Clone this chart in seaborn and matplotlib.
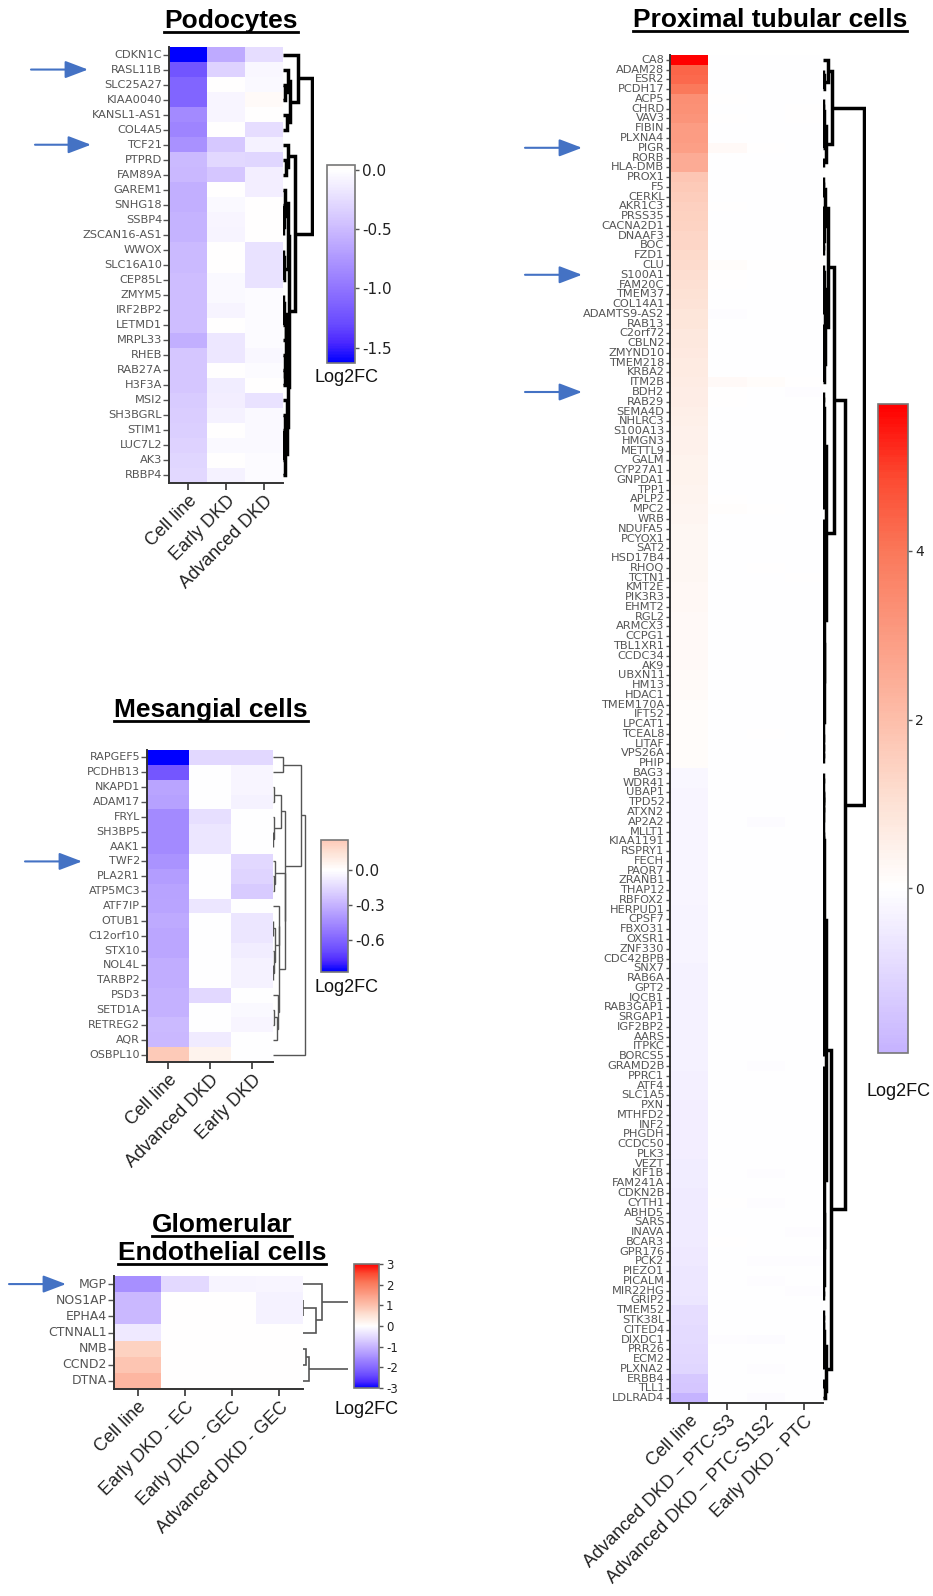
import numpy as np
import pandas as pd
import matplotlib
matplotlib.use("Agg")
import matplotlib.pyplot as plt
import seaborn as sns
from matplotlib.colors import LinearSegmentedColormap, ListedColormap
from matplotlib.lines import Line2D

plt.rcParams['font.family'] = ['DejaVu Sans']
plt.rcParams['axes.unicode_minus'] = False

# ---------------- DATA ----------------
pod_genes = ["CDKN1C", "RASL11B", "SLC25A27", "KIAA0040", "KANSL1-AS1", "COL4A5", "TCF21",
             "PTPRD", "FAM89A", "GAREM1", "SNHG18", "SSBP4", "ZSCAN16-AS1", "WWOX", "SLC16A10",
             "CEP85L", "ZMYM5", "IRF2BP2", "LETMD1", "MRPL33", "RHEB", "RAB27A", "H3F3A", "MSI2",
             "SH3BGRL", "STIM1", "LUC7L2", "AK3", "RBBP4"]
pod_cols = ["Cell line", "Early DKD", "Advanced DKD"]
pod_cell = [-1.63, -1.22, -1.12, -1.12, -0.85, -0.88, -0.80, -0.50, -0.52, -0.58, -0.58, -0.55,
            -0.55, -0.50, -0.50, -0.48, -0.48, -0.48, -0.48, -0.58, -0.42, -0.42, -0.42, -0.38,
            -0.36, -0.35, -0.33, -0.30, -0.28]
pod_early = [-0.62, -0.32, 0.0, -0.07, -0.07, 0.0, -0.40, -0.28, -0.42, 0.0, -0.05, -0.07,
             -0.08, 0.0, 0.0, -0.05, -0.05, -0.08, 0.0, -0.18, -0.18, 0.0, -0.14, -0.12,
             -0.10, 0.0, -0.05, 0.0, -0.10]
pod_adv = [-0.25, -0.06, -0.05, 0.04, 0.0, -0.25, -0.10, -0.30, -0.12, -0.12, 0.0, 0.0,
           0.0, -0.22, -0.22, -0.22, -0.03, -0.03, -0.03, -0.03, -0.06, -0.03, 0.0, -0.22,
           -0.05, -0.05, -0.05, -0.03, -0.03]

mes_genes = ["RAPGEF5", "PCDHB13", "NKAPD1", "ADAM17", "FRYL", "SH3BP5", "AAK1", "TWF2",
             "PLA2R1", "ATP5MC3", "ATF7IP", "OTUB1", "C12orf10", "STX10", "NOL4L", "TARBP2",
             "PSD3", "SETD1A", "RETREG2", "AQR", "OSBPL10"]
mes_cols = ["Cell line", "Advanced DKD", "Early DKD"]
mes_cell = [-0.874, -0.65, -0.35, -0.37, -0.45, -0.45, -0.45, -0.42, -0.38, -0.36, -0.35,
            -0.33, -0.34, -0.34, -0.32, -0.32, -0.30, -0.30, -0.27, -0.28, 0.257]
mes_adv = [-0.15, 0.0, 0.0, 0.0, -0.13, -0.10, -0.10, 0.0, 0.0, 0.0, -0.10, 0.0, 0.0, 0.0,
           0.0, 0.0, -0.15, 0.0, 0.0, -0.08, 0.06]
mes_early = [-0.15, -0.04, -0.04, -0.05, 0.0, 0.0, 0.0, -0.15, -0.17, -0.20, 0.0, -0.10,
             -0.10, -0.07, -0.05, -0.05, 0.0, -0.03, -0.04, 0.0, 0.0]

glom_genes = ["MGP", "NOS1AP", "EPHA4", "CTNNAL1", "NMB", "CCND2", "DTNA"]
glom_cols = ["Cell line", "Early DKD - EC", "Early DKD - GEC", "Advanced DKD - GEC"]
glom_cell = [-1.50, -0.95, -0.95, -0.30, 0.75, 0.95, 1.15]
glom_early_ec = [-0.50, 0.0, 0.0, 0.02, 0.02, 0.02, 0.0]
glom_early_gec = [-0.15, 0.0, 0.02, 0.0, 0.0, 0.0, 0.0]
glom_adv_gec = [-0.12, -0.18, -0.18, 0.0, 0.0, 0.0, 0.0]

ptc_genes = ["CA8", "ADAM28", "ESR2", "PCDH17", "ACP5", "CHRD", "VAV3", "FIBIN", "PLXNA4", "PIGR",
             "RORB", "HLA-DMB", "PROX1", "F5", "CERKL", "AKR1C3", "PRSS35", "CACNA2D1", "DNAAF3", "BOC",
             "FZD1", "CLU", "S100A1", "FAM20C", "TMEM37", "COL14A1", "ADAMTS9-AS2", "RAB13", "C2orf72", "CBLN2",
             "ZMYND10", "TMEM218", "KRBA2", "ITM2B", "BDH2", "RAB29", "SEMA4D", "NHLRC3", "S100A13", "HMGN3",
             "METTL9", "GALM", "CYP27A1", "GNPDA1", "TPP1", "APLP2", "MPC2", "WRB", "NDUFA5", "PCYOX1",
             "SAT2", "HSD17B4", "RHOQ", "TCTN1", "KMT2E", "PIK3R3", "EHMT2", "RGL2", "ARMCX3", "CCPG1",
             "TBL1XR1", "CCDC34", "AK9", "UBXN11", "HM13", "HDAC1", "TMEM170A", "IFT52", "LPCAT1", "TCEAL8",
             "LITAF", "VPS26A", "PHIP", "BAG3", "WDR41", "UBAP1", "TPD52", "ATXN2", "AP2A2", "MLLT1",
             "KIAA1191", "RSPRY1", "FECH", "PAQR7", "ZRANB1", "THAP12", "RBFOX2", "HERPUD1", "CPSF7", "FBXO31",
             "OXSR1", "ZNF330", "CDC42BPB", "SNX7", "RAB6A", "GPT2", "IQCB1", "RAB3GAP1", "SRGAP1", "IGF2BP2",
             "AARS", "ITPKC", "BORCS5", "GRAMD2B", "PPRC1", "ATF4", "SLC1A5", "PXN", "MTHFD2", "INF2",
             "PHGDH", "CCDC50", "PLK3", "VEZT", "KIF1B", "FAM241A", "CDKN2B", "CYTH1", "ABHD5", "SARS",
             "INAVA", "BCAR3", "GPR176", "PCK2", "PIEZO1", "PICALM", "MIR22HG", "GRIP2", "TMEM52", "STK38L",
             "CITED4", "DIXDC1", "PRR26", "ECM2", "PLXNA2", "ERBB4", "TLL1", "LDLRAD4"]
ptc_cols = ["Cell line", "Advanced DKD \u2013 PTC-S3", "Advanced DKD \u2013 PTC-S1S2", "Early DKD - PTC"]
ptc_cell = [5.74, 4.35, 4.25, 3.95, 3.35, 3.30, 3.20, 3.00, 2.95, 2.90,
            2.55, 2.50, 1.75, 1.70, 1.60, 1.50, 1.45, 1.40, 1.35, 1.30,
            1.25, 1.20, 1.10, 1.05, 1.00, 0.95, 0.90, 0.85, 0.80, 0.80,
            0.75, 0.70, 0.70, 0.65, 0.62, 0.60, 0.55, 0.52, 0.50, 0.48,
            0.46, 0.45, 0.44, 0.43, 0.42, 0.40, 0.36, 0.34, 0.33, 0.32,
            0.31, 0.30, 0.29, 0.28, 0.27, 0.26, 0.25, 0.24, 0.23, 0.22,
            0.21, 0.20, 0.19, 0.18, 0.17, 0.16, 0.15, 0.14, 0.13, 0.12,
            0.11, 0.10, 0.10, -0.20, -0.20, -0.21, -0.21, -0.22, -0.22, -0.23,
            -0.23, -0.24, -0.24, -0.25, -0.25, -0.26, -0.26, -0.27, -0.27, -0.28,
            -0.28, -0.29, -0.29, -0.30, -0.30, -0.31, -0.31, -0.32, -0.32, -0.33,
            -0.33, -0.34, -0.34, -0.35, -0.36, -0.37, -0.38, -0.39, -0.40, -0.41,
            -0.42, -0.43, -0.44, -0.45, -0.46, -0.47, -0.48, -0.49, -0.50, -0.51,
            -0.52, -0.53, -0.54, -0.56, -0.58, -0.60, -0.62, -0.65, -0.85, -0.87,
            -0.90, -0.92, -0.95, -1.00, -1.05, -1.40, -1.45, -1.95]
ptc_s3 = [0, 0, 0, 0, 0.03, 0, 0.03, 0, 0, 0.22,
          0, 0, 0, 0, 0, 0.04, 0, 0, 0, 0,
          0, 0.10, 0.03, 0.03, 0, 0, -0.08, 0, 0, 0,
          0, 0, 0, 0.22, 0.02, 0.05, 0, 0, 0, 0,
          0, 0, 0, 0, 0, 0.06, 0.08, 0, 0, 0,
          0, 0, 0, 0, 0, 0, 0, 0, 0, 0,
          0, 0, 0, 0, 0, 0, 0, 0, 0, 0,
          0, 0, 0, 0, 0, 0, 0, 0, 0, 0,
          0, 0, 0, 0, 0, 0, 0, 0, 0, 0,
          0, 0, 0, 0, 0, 0, 0, 0, 0, 0,
          0, 0, 0, 0, 0, 0, 0, 0, 0, 0,
          0, 0, 0, 0, 0, 0, 0, 0.03, 0, 0,
          0, 0.04, 0, 0, 0, 0, 0, 0, 0, 0,
          0, -0.08, 0, 0, 0, 0, 0, 0]
ptc_s1s2 = [0, 0, 0, 0, 0, 0, 0, 0, 0, 0.05,
            0, 0, 0, 0, 0, 0, 0, 0, 0, 0,
            0, 0.06, 0, 0, 0, 0, 0, 0, 0, 0,
            0, 0, 0, 0.15, 0, 0, 0, 0, 0, 0,
            0, 0, 0, 0, 0, 0, 0.03, 0, 0, 0,
            0, 0, 0.04, 0, 0, 0, 0, 0, 0, 0,
            0, 0, 0, 0, 0, 0, 0, 0, 0, 0.04,
            0, 0, 0, 0, 0, 0, 0, 0, -0.10, 0,
            0, 0, 0, 0, 0, 0, 0, 0, 0, 0,
            0, 0, 0, 0, 0, 0, 0, 0, 0, 0,
            0, 0, 0, -0.07, 0, 0, 0, 0, 0, 0,
            0, 0, 0, 0, -0.05, 0, 0, -0.07, 0, 0,
            0, 0, 0, -0.04, 0, -0.08, 0, 0, 0, 0,
            0, -0.10, 0, 0, -0.05, 0, 0, -0.10]
ptc_early = [0, 0, 0, 0, 0, 0.03, 0.05, 0, 0, 0,
             0, 0, 0, 0, 0, 0, 0, 0, 0, 0,
             0, 0.04, 0, 0, 0, 0, 0, 0, 0, 0,
             0, 0, 0, 0.05, -0.05, 0, 0, 0, 0, 0,
             0, 0, 0, 0, 0, 0, 0, 0, 0, 0,
             0, 0, 0, 0.02, 0, 0, 0, 0, 0, 0,
             0, 0, 0, 0, 0, 0, 0, 0, 0, 0,
             0, 0, 0, 0, 0, 0, 0, 0, 0, 0,
             0, 0, 0, 0, 0, 0, 0, 0, 0, 0,
             0, 0, 0, 0, 0, 0, 0, 0, 0, 0,
             0, 0, 0, 0, 0, 0, 0, 0, 0, 0,
             0, 0, 0, 0, 0, 0, 0, 0, 0, 0,
             -0.04, 0, 0, -0.06, 0, 0, -0.03, 0, 0, 0,
             0, 0, 0, 0, 0, 0, 0, 0]

# ---------------- STYLE / LAYOUT ----------------
W, H = 933, 1596
fig = plt.figure(figsize=(W / 100, H / 100), dpi=100)

BASE = LinearSegmentedColormap.from_list("log2fc", [
    (0.0, "#0000ff"), (0.05, "#4b28ff"), (0.10, "#694bff"), (0.20, "#9478ff"),
    (0.35, "#cdbcff"), (0.5, "#ffffff"), (0.59, "#fde1d4"), (0.675, "#fdbeaa"),
    (0.85, "#fa785a"), (0.925, "#fc4b32"), (1.0, "#ff0000")])


def trunc_cmap(vmin, vmax):
    m = max(abs(vmin), abs(vmax))
    a, b = 0.5 + vmin / (2 * m), 0.5 + vmax / (2 * m)
    return ListedColormap(BASE(np.linspace(a, b, 256)))


def add_ax(x0, y0, x1, y1):
    return fig.add_axes([x0 / W, 1 - y1 / H, (x1 - x0) / W, (y1 - y0) / H])


def adjacent_ward(X):
    X = np.asarray(X, float)
    clusters = [(np.array([i]), i + 0.5, 0.0) for i in range(len(X))]
    links = []
    while len(clusters) > 1:
        best = None
        for j in range(len(clusters) - 1):
            a, b = clusters[j][0], clusters[j + 1][0]
            na, nb = len(a), len(b)
            d = np.sqrt(2 * na * nb / (na + nb)) * np.linalg.norm(X[a].mean(0) - X[b].mean(0))
            if best is None or d < best[0]:
                best = (d, j)
        d, j = best
        (ma, pa, ha), (mb, pb, hb) = clusters[j], clusters[j + 1]
        h = max(d, ha, hb)
        links.append((pa, ha, pb, hb, h))
        clusters[j:j + 2] = [(np.concatenate([ma, mb]), (pa + pb) / 2, h)]
    return links


def panel(genes, cols, series, heat_box, dendro_box, cbar_box, vmin, vmax, ticks, fmt,
          ytick_fs, cbar_fs, dlw, dcol, dscale, label_xy, ytick_len=4):
    mat = np.column_stack(series)
    df = pd.DataFrame(mat, index=genes, columns=cols)
    ax = add_ax(*heat_box)
    cax = add_ax(*cbar_box)
    sns.heatmap(df, ax=ax, cbar_ax=cax, cmap=trunc_cmap(vmin, vmax), vmin=vmin, vmax=vmax,
                xticklabels=True, yticklabels=True,
                cbar_kws=dict(ticks=ticks, format=fmt))
    ax.set_xlabel("")
    ax.set_ylabel("")
    for s in ["left", "bottom"]:
        ax.spines[s].set_visible(True)
        ax.spines[s].set_color("#333333")
        ax.spines[s].set_linewidth(1.4)
    ax.tick_params(axis="y", length=ytick_len, width=1, color="#555555", labelcolor="#555555",
                   labelsize=ytick_fs, pad=1, left=True)
    ax.tick_params(axis="x", length=5, width=1.2, color="#333333", bottom=True, pad=2)
    ax.set_yticklabels(genes, rotation=0)
    ax.set_xticklabels(cols, rotation=45, ha="right", rotation_mode="anchor",
                       fontfamily="Liberation Sans", fontsize=13, color="#222222")
    cb = ax.collections[0].colorbar
    cb.outline.set_linewidth(1.2)
    cb.outline.set_edgecolor("#777777")
    cax.tick_params(length=3, width=1, color="#555555", labelsize=cbar_fs, labelcolor="#222222", pad=2)
    fig.text(label_xy[0] / W, 1 - label_xy[1] / H, "Log2FC", ha="center", va="center",
             fontfamily="Liberation Sans", fontsize=13, color="#111111")

    # dendrogram (adjacent-constrained Ward clustering of the rows)
    dax = add_ax(*dendro_box)
    links = adjacent_ward(mat)
    for pa, ha, pb, hb, h in links:
        dax.plot([ha, h, h, hb], [pa, pa, pb, pb], color=dcol, lw=dlw,
                 solid_capstyle="butt", solid_joinstyle="miter")
    heights = sorted(l[4] for l in links)
    dax.set_ylim(len(genes), 0)
    dax.set_xlim(0, dscale(heights))
    dax.axis("off")
    return ax


def arrow(ax, genes, gene, x_tail, x_head):
    r = genes.index(gene) + 0.5
    ax.annotate("", xy=(x_head, r), xycoords=("figure pixels", "data"),
                xytext=(x_tail, r), textcoords=("figure pixels", "data"),
                arrowprops=dict(arrowstyle="-|>,head_length=1.0,head_width=0.38",
                                color="#4472C4", lw=1.5, mutation_scale=14,
                                shrinkA=0, shrinkB=0),
                annotation_clip=False)


# Podocytes
ax_pod = panel(pod_genes, pod_cols, [pod_cell, pod_early, pod_adv],
               (169, 47, 283, 483), (283, 47, 314, 483), (327, 165, 355, 363),
               min(pod_cell + pod_early + pod_adv), max(pod_cell + pod_early + pod_adv),
               [0.0, -0.5, -1.0, -1.5], "%.1f", 8.2, 11, 2.5, "black",
               lambda h: h[-1] * 1.06, (346, 378))
arrow(ax_pod, pod_genes, "RASL11B", 31, 88)
arrow(ax_pod, pod_genes, "TCF21", 35, 91)

# Mesangial
ax_mes = panel(mes_genes, mes_cols, [mes_cell, mes_adv, mes_early],
               (147, 750, 273, 1062), (273, 750, 307, 1062), (321, 840, 348, 972),
               min(mes_cell + mes_adv + mes_early), max(mes_cell + mes_adv + mes_early),
               [0.0, -0.3, -0.6], "%.1f", 8.0, 11, 1.0, "#555555",
               lambda h: h[-1] * 1.05, (346, 988))
arrow(ax_mes, mes_genes, "TWF2", 25, 82)

# Glomerular endothelial
ax_glom = panel(glom_genes, glom_cols, [glom_cell, glom_early_ec, glom_early_gec, glom_adv_gec],
                (114, 1276, 303, 1389), (303, 1276, 348, 1389), (354, 1264, 379, 1388),
                -3, 3, [-3, -2, -1, 0, 1, 2, 3], "%d", 9.0, 8.5, 1.2, "#555555",
                lambda h: h[-2] * 2.37, (366, 1409))
arrow(ax_glom, glom_genes, "MGP", 9, 66)

# Proximal tubular
ax_ptc = panel(ptc_genes, ptc_cols, [ptc_cell, ptc_s3, ptc_s1s2, ptc_early],
               (670, 55, 823, 1403), (823, 55, 866, 1403), (878, 404, 908, 1053),
               min(ptc_cell), max(ptc_cell), [0, 2, 4], "%d", 8.2, 10, 2.5, "black",
               lambda h: h[-1] * 1.04, (898, 1092), ytick_len=3)
for g in ["PIGR", "S100A1", "BDH2"]:
    arrow(ax_ptc, ptc_genes, g, 525, 582)

# Titles (bold, underlined)
titles = [("Podocytes", 231, 28), ("Mesangial cells", 211, 717),
          ("Glomerular", 222, 1232), ("Endothelial cells", 222, 1260),
          ("Proximal tubular cells", 770, 27)]
fig.canvas.draw()
renderer = fig.canvas.get_renderer()
for txt, x, yb in titles:
    t = fig.text(x / W, 1 - yb / H, txt, ha="center", va="baseline", fontsize=19,
                 fontweight="bold", fontfamily="Liberation Sans", color="black")
    bb = t.get_window_extent(renderer)
    yl = (H - yb - 4) / H
    fig.add_artist(Line2D([bb.x0 / W, bb.x1 / W], [yl, yl], transform=fig.transFigure,
                          color="black", lw=2.0))

fig.savefig("out.png", dpi=100)
